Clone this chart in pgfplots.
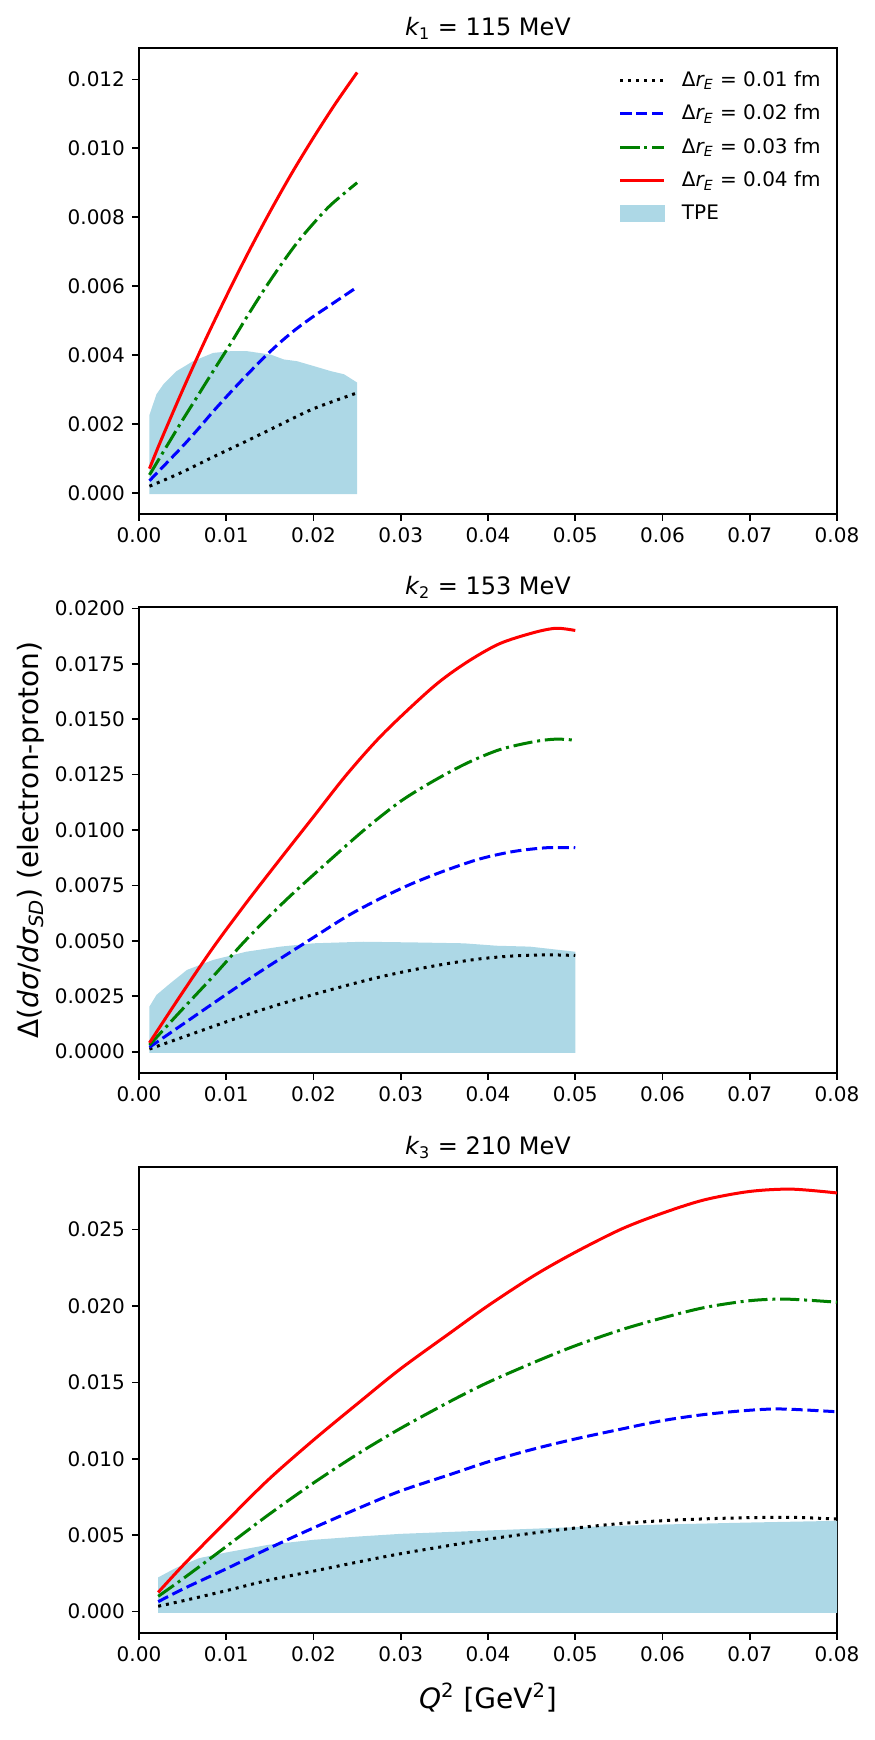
\documentclass[border=0pt]{standalone}
\usepackage{fontspec}
\setmainfont{DejaVu Sans}
\usepackage{pgfplots}
\pgfplotsset{compat=1.18}
\definecolor{tpe}{HTML}{ADD8E6}
\definecolor{mplgreen}{HTML}{008000}
\pgfplotsset{
  base/.style={scale only axis, width=349pt, height=233pt, anchor=south west,
    xmin=0, xmax=0.08, xtick={0,0.01,0.02,0.03,0.04,0.05,0.06,0.07,0.08},
    tick align=outside, tick pos=left, major tick length=3.5pt,
    every tick/.style={black, line width=0.8pt},
    axis line style={line width=0.8pt},
    tick label style={font=\fontsize{10}{12}\selectfont},
    xticklabel style={/pgf/number format/.cd, fixed, fixed zerofill, precision=2},
    scaled ticks=false, /pgf/number format/assume math mode=true,
    title style={font=\fontsize{12}{14}\selectfont, at={(0.5,1)}, anchor=base, yshift=0pt},
    no markers},
  s1/.style={black, line width=1.5pt, dash pattern=on 1.5pt off 2.475pt, smooth},
  s2/.style={blue, line width=1.5pt, dash pattern=on 5.55pt off 2.4pt, smooth},
  s3/.style={mplgreen, line width=1.5pt, dash pattern=on 9.6pt off 2.4pt on 1.5pt off 2.4pt, smooth},
  s4/.style={red, line width=1.5pt, smooth},
  band/.style={fill=tpe, draw=none, forget plot},
}
\begin{document}
\begin{tikzpicture}
\path[use as bounding box] (0,0) rectangle (437pt,870pt);
% ---------------- panel 1
\begin{axis}[base, at={(69.5pt,613pt)},
  ymin=-0.000615, ymax=0.01291, ytick={0,0.002,0.004,0.006,0.008,0.010,0.012},
  yticklabel style={/pgf/number format/.cd, fixed, fixed zerofill, precision=3},
  title={{\itshape k}\textsubscript{1} = 115 MeV},
  legend style={draw=none, fill=none, at={(rel axis cs:1,1)}, anchor=north east, xshift=-4pt, yshift=-7.5pt,
    font=\fontsize{10}{12}\selectfont, row sep=3.6pt, inner sep=2pt},
  legend cell align=left,
  legend image code/.code={\draw[#1] (0pt,0pt) -- (22pt,0pt); \path (28pt,0pt);}]
\addplot[band] coordinates {(0.0012,0.00226) (0.002,0.00286) (0.0028,0.00315) (0.0043,0.00353) (0.0062,0.00382) (0.0085,0.00406) (0.0105,0.00411) (0.0124,0.00411) (0.0151,0.00401) (0.0166,0.00387) (0.0181,0.00382) (0.0200,0.00368) (0.022,0.00353) (0.0235,0.00344) (0.025,0.0032) (0.025,-0.00004) (0.0012,-0.00004)} -- cycle;
\addplot[s1] coordinates {(0.0012,0.00019) (0.0047,0.00057) (0.0085,0.00104) (0.0124,0.00151) (0.0162,0.00198) (0.0200,0.00244) (0.025,0.0029)};
\addlegendentry{Δ{\itshape r}\textsubscript{\itshape E} = 0.01 fm}
\addplot[s2] coordinates {(0.0012,0.00035) (0.0047,0.00127) (0.0066,0.0018) (0.0085,0.00236) (0.0105,0.00292) (0.0124,0.00343) (0.0143,0.00392) (0.0162,0.00437) (0.0181,0.00477) (0.0200,0.00512) (0.0220,0.00546) (0.025,0.00597)};
\addlegendentry{Δ{\itshape r}\textsubscript{\itshape E} = 0.02 fm}
\addplot[s3] coordinates {(0.0012,0.00052) (0.0047,0.00199) (0.0066,0.00276) (0.0085,0.00353) (0.0105,0.00433) (0.0124,0.00512) (0.0143,0.00588) (0.0162,0.00659) (0.0181,0.00725) (0.0200,0.00782) (0.0220,0.00836) (0.025,0.0090)};
\addlegendentry{Δ{\itshape r}\textsubscript{\itshape E} = 0.03 fm}
\addplot[s4] coordinates {(0.0012,0.0007) (0.0025,0.00151) (0.005,0.00298) (0.0075,0.00438) (0.01,0.0057) (0.0125,0.00696) (0.015,0.00815) (0.0175,0.00927) (0.02,0.01031) (0.0225,0.01129) (0.025,0.0122)};
\addlegendentry{Δ{\itshape r}\textsubscript{\itshape E} = 0.04 fm}
\addlegendimage{legend image code/.code={\fill[tpe] (0pt,-4pt) rectangle (22pt,4pt); \path (28pt,0pt);}}
\addlegendentry{TPE}
\end{axis}
% ---------------- panel 2
\begin{axis}[base, at={(69.5pt,333.5pt)},
  ymin=-0.00096, ymax=0.02006, ytick={0,0.0025,0.005,0.0075,0.01,0.0125,0.015,0.0175,0.02},
  yticklabel style={/pgf/number format/.cd, fixed, fixed zerofill, precision=4},
  title={{\itshape k}\textsubscript{2} = 153 MeV},
  ylabel={Δ({\itshape dσ}/{\itshape dσ}\textsubscript{\itshape SD}) (electron-proton)},
  ylabel style={font=\fontsize{14}{16}\selectfont, at={(axis description cs:-0.155,0.5)}, anchor=center}]
\addplot[band] coordinates {(0.0012,0.00204) (0.002,0.00256) (0.0036,0.00309) (0.0055,0.00369) (0.0085,0.00414) (0.0123,0.00451) (0.0162,0.00474) (0.0200,0.00489) (0.0257,0.00496) (0.0314,0.00493) (0.0372,0.00489) (0.041,0.00478) (0.0448,0.00474) (0.050,0.00451) (0.050,-0.00005) (0.0012,-0.00005)} -- cycle;
\addplot[s1] coordinates {(0.0012,0.00012) (0.0047,0.00061) (0.0085,0.00114) (0.0123,0.00166) (0.0162,0.00215) (0.0200,0.00258) (0.0238,0.00299) (0.0276,0.00337) (0.0314,0.00369) (0.0353,0.00397) (0.0391,0.00419) (0.0429,0.00432) (0.0467,0.00437) (0.050,0.00434)};
\addplot[s2] coordinates {(0.0012,0.0002) (0.0047,0.00115) (0.0085,0.00218) (0.0123,0.0032) (0.0162,0.0042) (0.0192,0.00495) (0.0238,0.0061) (0.0276,0.0069) (0.0314,0.0076) (0.0353,0.0082) (0.0391,0.0087) (0.0429,0.00903) (0.0467,0.0092) (0.05,0.0092)};
\addplot[s3] coordinates {(0.0012,0.0003) (0.0047,0.0018) (0.0085,0.0034) (0.0123,0.00506) (0.017,0.0069) (0.0219,0.00865) (0.0261,0.0101) (0.03,0.0113) (0.0337,0.0122) (0.0375,0.0130) (0.0413,0.01362) (0.0452,0.01398) (0.0478,0.0141) (0.050,0.01405)};
\addplot[s4] coordinates {(0.0012,0.0004) (0.0047,0.0025) (0.0085,0.0047) (0.0123,0.00672) (0.0161,0.00865) (0.02,0.0106) (0.0238,0.0125) (0.028,0.01435) (0.0337,0.01645) (0.0375,0.01755) (0.0413,0.0184) (0.0452,0.0189) (0.0478,0.0191) (0.050,0.0190)};
\end{axis}
% ---------------- panel 3
\begin{axis}[base, at={(69.5pt,53.5pt)},
  ymin=-0.0014, ymax=0.0291, ytick={0,0.005,0.01,0.015,0.02,0.025},
  yticklabel style={/pgf/number format/.cd, fixed, fixed zerofill, precision=3},
  title={{\itshape k}\textsubscript{3} = 210 MeV},
  xlabel={{\itshape Q}\textsuperscript{2} [GeV\textsuperscript{2}]},
  xlabel style={font=\fontsize{14}{16}\selectfont, at={(axis description cs:0.5,-0.139)}, anchor=center}]
\addplot[band] coordinates {(0.0022,0.00224) (0.0042,0.00285) (0.0069,0.0035) (0.01,0.00387) (0.0148,0.00437) (0.02,0.0047) (0.0253,0.00492) (0.03,0.00509) (0.04,0.00531) (0.05,0.00553) (0.06,0.0057) (0.07,0.00583) (0.08,0.00594) (0.08,-0.00008) (0.0022,-0.00008)} -- cycle;
\addplot[s1] coordinates {(0.0022,0.00035) (0.0053,0.00074) (0.01,0.00137) (0.0148,0.00205) (0.02,0.00265) (0.0253,0.00327) (0.03,0.00379) (0.0358,0.00435) (0.04,0.00474) (0.0453,0.00515) (0.05,0.00547) (0.0553,0.00577) (0.06,0.00595) (0.0648,0.00607) (0.07,0.00615) (0.0748,0.00617) (0.08,0.00606)};
\addplot[s2] coordinates {(0.0022,0.00065) (0.0053,0.00155) (0.01,0.0028) (0.0148,0.00412) (0.02,0.00548) (0.0253,0.0068) (0.03,0.0079) (0.0358,0.0090) (0.04,0.0098) (0.0453,0.01065) (0.05,0.0113) (0.0553,0.01195) (0.06,0.0125) (0.0648,0.0129) (0.07,0.01318) (0.0738,0.01326) (0.08,0.01308)};
\addplot[s3] coordinates {(0.0022,0.001) (0.0053,0.00226) (0.01,0.00426) (0.0148,0.00632) (0.02,0.00842) (0.0253,0.0104) (0.03,0.0120) (0.0358,0.0138) (0.04,0.0150) (0.0453,0.01632) (0.05,0.0174) (0.0553,0.01845) (0.06,0.01922) (0.0648,0.0199) (0.07,0.02035) (0.0743,0.02045) (0.08,0.02025)};
\addplot[s4] coordinates {(0.0022,0.00126) (0.0053,0.00318) (0.01,0.0059) (0.0148,0.00862) (0.02,0.01123) (0.0253,0.01373) (0.03,0.0159) (0.0358,0.0183) (0.04,0.02002) (0.0453,0.022) (0.05,0.02352) (0.0553,0.02504) (0.06,0.02608) (0.0648,0.02695) (0.07,0.0275) (0.0748,0.02765) (0.08,0.0274)};
\end{axis}
\end{tikzpicture}
\end{document}
